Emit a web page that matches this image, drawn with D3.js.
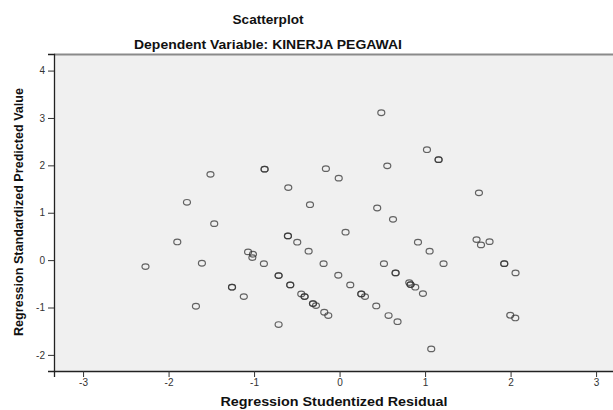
<!DOCTYPE html>
<html><head><meta charset="utf-8">
<script src="https://cdn.jsdelivr.net/npm/d3@7"></script>
<style>body{margin:0;background:#fff}svg{display:block}text{font-family:"Liberation Sans",Arial,sans-serif}</style>
</head><body><svg id="c" width="613" height="410"></svg>
<script>
const residual = [0.488,1.022,-0.877,-0.877,-0.16,-0.01,0.558,-0.6,-0.346,0.44,0.625,1.158,1.158,1.63,-1.51,-1.785,-1.466,-1.898,-1.07,-1.013,-1.02,-0.885,-2.27,-1.61,-1.258,-1.258,-1.12,-1.68,0.07,-0.604,-0.604,-0.495,-0.362,-0.187,0.519,0.655,0.655,-0.713,-0.713,-0.015,-0.577,-0.577,0.125,-0.448,-0.409,-0.409,0.254,0.254,0.297,-0.311,-0.311,-0.276,0.429,-0.179,-0.132,0.573,0.678,-0.713,0.917,1.053,1.216,1.602,1.654,1.754,1.926,1.926,2.058,0.815,0.83,0.83,0.885,0.975,1.996,2.055,1.072];
const predicted = [3.11,2.33,1.92,1.92,1.93,1.73,1.99,1.53,1.17,1.10,0.86,2.12,2.12,1.42,1.81,1.22,0.77,0.384,0.173,0.124,0.053,-0.074,-0.137,-0.066,-0.572,-0.572,-0.77,-0.973,0.589,0.511,0.511,0.378,0.188,-0.074,-0.074,-0.27,-0.27,-0.327,-0.327,-0.319,-0.523,-0.523,-0.523,-0.713,-0.77,-0.77,-0.713,-0.713,-0.77,-0.918,-0.918,-0.96,-0.967,-1.10,-1.17,-1.17,-1.30,-1.36,0.378,0.188,-0.074,0.433,0.321,0.39,-0.074,-0.074,-0.27,-0.474,-0.517,-0.517,-0.572,-0.707,-1.163,-1.22,-1.874];
const xTicks = [-3,-2,-1,0,1,2,3];
const yTicks = [-2,-1,0,1,2,3,4];
const title = "Scatterplot";
const subtitle = "Dependent Variable: KINERJA PEGAWAI";
const xLabel = "Regression Studentized Residual";
const yLabel = "Regression Standardized Predicted Value";

const svg = d3.select("#c");
const x = d3.scaleLinear().domain([-3.34, 3.33]).range([54, 624.3]);
const y = d3.scaleLinear().domain([-2.34, 4.35]).range([371, 54]);

svg.append("rect").attr("x", x(-3.34)).attr("y", y(4.35)).attr("width", x(3.33)-x(-3.34)).attr("height", y(-2.34)-y(4.35)).attr("fill", "#f0f0f0");
svg.append("line").attr("x1", x(-3.34)).attr("x2", x(3.33)).attr("y1", y(4.35)+0.5).attr("y2", y(4.35)+0.5).attr("stroke", "#8a8a8a").attr("stroke-width", 1.8);

const fmt = d => String(d);
const gx = svg.append("g").attr("transform", `translate(0,${y(-2.34)})`)
  .call(d3.axisBottom(x).tickValues(xTicks).tickSize(6).tickPadding(2).tickFormat(fmt));
const gy = svg.append("g").attr("transform", `translate(${x(-3.34)},0)`)
  .call(d3.axisLeft(y).tickValues(yTicks).tickSize(6).tickPadding(3).tickFormat(fmt));
[gx, gy].forEach(g => {
  g.select(".domain").attr("stroke", "#222").attr("stroke-width", 1.3);
  g.selectAll(".tick line").attr("stroke", "#333");
  g.selectAll(".tick text").attr("fill", "#333").style("font-size", "10px").style("font-family", "'Liberation Sans',Arial,sans-serif");
});

const pts = residual.map((r, i) => ({r, p: predicted[i]}));
svg.append("g").selectAll("ellipse").data(pts).join("ellipse")
  .attr("cx", d => x(d.r)).attr("cy", d => y(d.p))
  .attr("rx", 3.5).attr("ry", 2.8)
  .attr("fill", "none").attr("stroke", "#333").attr("stroke-opacity", 0.75).attr("stroke-width", 1.2);

function label(txt, size, len) {
  return svg.append("text").attr("text-anchor", "middle").attr("font-weight", "bold")
    .attr("font-size", size).attr("fill", "#111")
    .attr("textLength", len).attr("lengthAdjust", "spacingAndGlyphs").text(txt);
}
label(title, 12.6, 71).attr("x", 268).attr("y", 24);
label(subtitle, 13, 268).attr("x", 268).attr("y", 49);
label(xLabel, 12, 227).attr("x", 334).attr("y", 406);
label(yLabel, 12, 248).attr("transform", "translate(22.5,212) rotate(-90)");
</script></body></html>
